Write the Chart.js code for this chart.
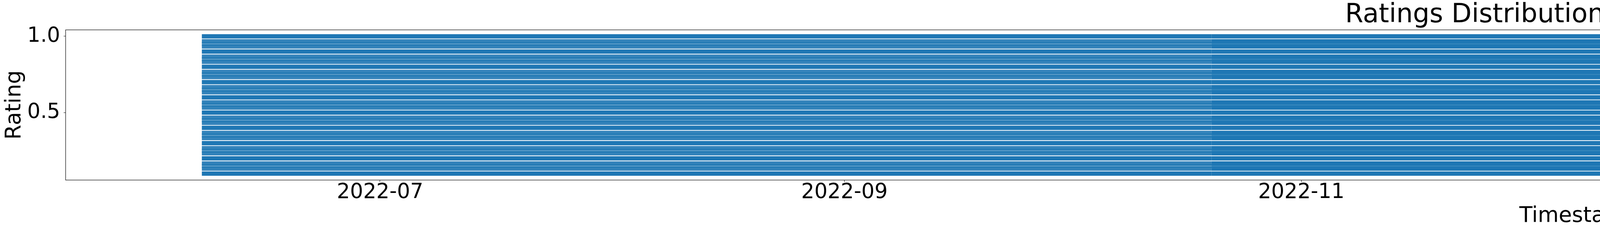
<!DOCTYPE html>
<html>
<head>
<meta charset="utf-8">
<title>Ratings Distribution Over Time</title>
<script src="https://cdn.jsdelivr.net/npm/chart.js@4.4.1/dist/chart.umd.min.js"></script>
<style>
  html, body { margin: 0; padding: 0; background: #fff; }
  canvas { display: block; }
</style>
</head>
<body>
<canvas id="chart" width="7927" height="594"></canvas>
<script>
// Rating levels (rows of points)
const mainLevels = [0.1, 0.2, 0.3, 0.4, 0.5, 0.6, 0.7, 0.8, 0.9, 1.0];
const thirdLevels = [0.133, 0.167, 0.233, 0.267, 0.333, 0.367, 0.433, 0.467, 0.533,
  0.567, 0.633, 0.667, 0.733, 0.767, 0.833, 0.867, 0.933, 0.967];
const halfLevels = [0.15, 0.25, 0.35, 0.45, 0.55, 0.65, 0.75, 0.85, 0.95];

// Time spans of the point bands: sparser start, dense middle, short tail
const periodStarts = ['2022-06-07T05:00:00Z', '2022-10-20T00:00:00Z', '2023-06-07T00:00:00Z'];
const periodEnds = ['2022-10-20T00:00:00Z', '2023-06-07T00:00:00Z', '2023-06-10T00:00:00Z'];

// Axis ticks
const xTickLabels = ['2022-07', '2022-09', '2022-11', '2023-01', '2023-03', '2023-05'];
const yTickValues = [0.5, 1.0];

// How filled each group of rows looks in each span
const mainOpacity = [1, 1, 0.85];
const thirdOpacity = [0.9, 1, 0.4];
const halfOpacity = [0.7, 0.88, 0.3];

const BLUE = [31, 119, 180];
const FONT = "'DejaVu Sans', 'Liberation Sans', sans-serif";

const datasets = [];
const addGroup = (levels, opacity) => {
  levels.forEach(level => {
    periodStarts.forEach((start, i) => {
      datasets.push({
        data: [
          { x: Date.parse(start), y: level },
          { x: Date.parse(periodEnds[i]), y: level }
        ],
        showLine: true,
        borderColor: `rgba(${BLUE.join(',')},${opacity[i]})`,
        borderWidth: 11,
        borderCapStyle: 'butt',
        pointRadius: 0,
        pointHoverRadius: 0
      });
    });
  });
};
addGroup(halfLevels, halfOpacity);
addGroup(thirdLevels, thirdOpacity);
addGroup(mainLevels, mainOpacity);

const xTickValues = xTickLabels.map(l => Date.parse(l + '-01T00:00:00Z'));

// Black frame round the plot like matplotlib spines
const framePlugin = {
  id: 'frame',
  afterDraw(chart) {
    const { ctx, chartArea: a } = chart;
    ctx.save();
    ctx.strokeStyle = '#000';
    ctx.lineWidth = 1.2;
    ctx.strokeRect(a.left, a.top, a.right - a.left, a.bottom - a.top);
    ctx.restore();
  }
};

new Chart(document.getElementById('chart'), {
  type: 'scatter',
  data: { datasets },
  plugins: [framePlugin],
  options: {
    responsive: false,
    animation: false,
    devicePixelRatio: 1,
    events: [],
    layout: { padding: { left: 0, right: 9, top: 0, bottom: 0 } },
    plugins: {
      legend: { display: false },
      tooltip: { enabled: false },
      title: {
        display: true,
        text: 'Ratings Distribution Over Time',
        color: '#000',
        font: { family: FONT, size: 67, weight: 'normal', lineHeight: 1 },
        padding: { top: 6, bottom: 3.5 }
      }
    },
    scales: {
      x: {
        type: 'linear',
        min: Date.parse('2022-05-20T00:30:00Z'),
        max: Date.parse('2023-06-28T05:00:00Z'),
        afterBuildTicks: scale => {
          scale.ticks = xTickValues.map(v => ({ value: v }));
        },
        afterFit: scale => { scale.height = 133; },
        ticks: {
          autoSkip: false,
          maxRotation: 0,
          color: '#000',
          padding: 1,
          font: { family: FONT, size: 53, lineHeight: 1 },
          callback: v => xTickLabels[xTickValues.indexOf(v)]
        },
        grid: { display: true, drawOnChartArea: false, drawTicks: true, tickLength: 5, color: '#000' },
        border: { display: false },
        title: {
          display: true,
          text: 'Timestamp',
          color: '#000',
          font: { family: FONT, size: 55, lineHeight: 1.2 },
          padding: { top: 0, bottom: 7 }
        }
      },
      y: {
        min: 0.058,
        max: 1.042,
        afterBuildTicks: scale => {
          scale.ticks = yTickValues.map(v => ({ value: v }));
        },
        afterFit: scale => { scale.width = 168; },
        ticks: {
          color: '#000',
          padding: 9,
          font: { family: FONT, size: 53, lineHeight: 1 },
          callback: v => v.toFixed(1)
        },
        grid: { display: true, drawOnChartArea: false, drawTicks: true, tickLength: 5, color: '#000' },
        border: { display: false },
        title: {
          display: true,
          text: 'Rating',
          color: '#000',
          font: { family: FONT, size: 55, lineHeight: 1.2 },
          padding: { top: 5, bottom: 0 }
        }
      }
    }
  }
});
</script>
</body>
</html>
